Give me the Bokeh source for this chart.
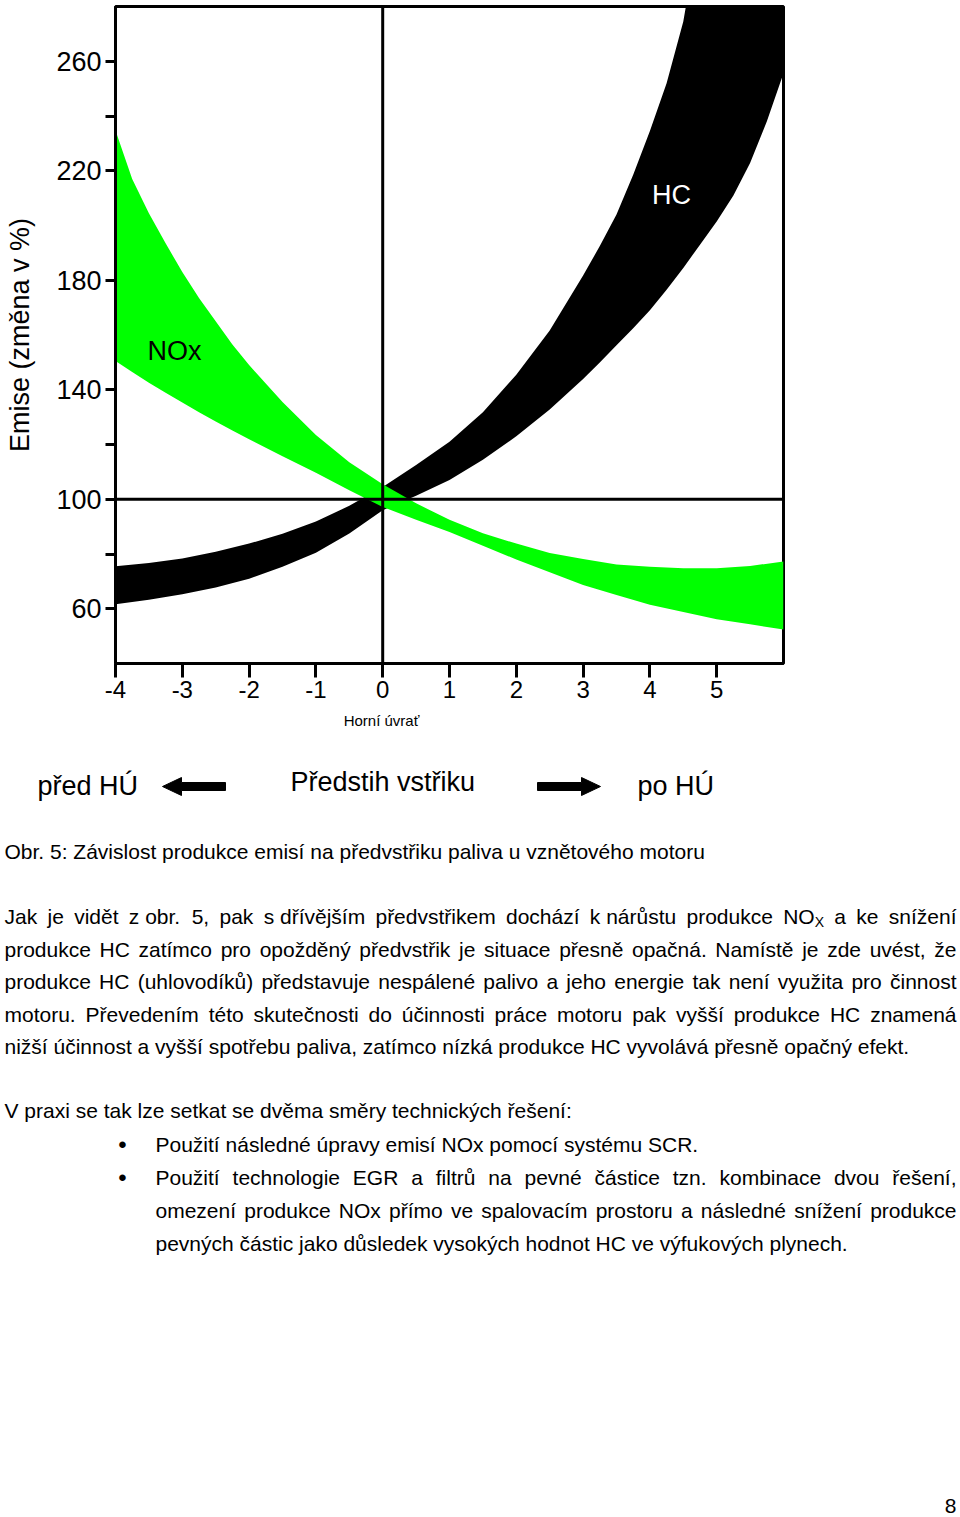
import unicodedata
from bokeh.plotting import figure
from bokeh.layouts import column
from bokeh.models import (Range1d, FixedTicker, Span, Label, ColumnDataSource)
from bokeh.core.properties import value
from bokeh.embed import file_html
from bokeh.resources import INLINE

# ---------------- data ----------------
hc_x = [-4.0, -3.5, -3.0, -2.5, -2.0, -1.5, -1.0, -0.5, 0.0, 0.5, 1.0, 1.5, 2.0, 2.5,
        3.0, 3.25, 3.5, 3.75, 4.0, 4.25, 4.5, 4.75, 5.0, 5.25, 5.5, 5.75, 6.0]
hc_upper = [75.5, 76.7, 78.4, 80.8, 83.8, 87.4, 91.9, 97.6, 104.5, 112.5, 121.0, 131.8, 145.5, 161.6,
            181.7, 192.5, 204.0, 218.5, 234.5, 252.0, 274.5, 310.0, 350.0, 400.0, 450.0, 500.0, 550.0]
hc_lower = [61.6, 63.3, 65.3, 67.8, 71.0, 75.3, 80.5, 87.5, 96.0, 101.3, 107.0, 114.4, 123.0, 132.8,
            143.9, 150.0, 156.3, 162.5, 169.0, 176.5, 184.5, 193.0, 201.5, 211.0, 222.8, 238.0, 255.6]

nox_x = [-4.0, -3.75, -3.5, -3.25, -3.0, -2.75, -2.5, -2.25, -2.0, -1.5, -1.0, -0.5, 0.0,
         0.5, 1.0, 1.5, 2.0, 2.5, 3.0, 3.5, 4.0, 4.5, 5.0, 5.5, 6.0]
nox_upper = [234.7, 217.0, 204.5, 193.5, 183.0, 173.5, 165.0, 156.5, 149.0, 135.5, 123.5, 113.5, 105.5,
             98.5, 92.5, 87.6, 83.8, 80.4, 78.2, 76.2, 75.3, 74.8, 74.8, 75.6, 77.3]
nox_lower = [150.5, 146.5, 142.6, 138.9, 135.3, 131.8, 128.4, 125.1, 121.9, 115.7, 109.7, 103.3, 97.2,
             92.5, 88.0, 83.0, 78.0, 73.3, 68.7, 65.0, 61.5, 58.8, 56.2, 54.3, 52.4]

x_ticks = [-4, -3, -2, -1, 0, 1, 2, 3, 4, 5]
y_ticks = [60, 100, 140, 180, 220, 260]
y_minor_ticks = [80, 120, 240]

y_axis_title = "Emise (změna v %)"
zero_label = "Horní úvrať"
arrow_texts = ["před HÚ", "Předstih vstřiku", "po HÚ"]
series_names = ["NOx", "HC"]

caption = "Obr. 5: Závislost produkce emisí na předvstřiku paliva u vznětového motoru"
para1 = [
    "Jak je vidět z\u00a0obr. 5, pak s\u00a0dřívějším předvstřikem dochází k\u00a0nárůstu produkce NOX a ke snížení",
    "produkce HC zatímco pro opožděný předvstřik je situace přesně opačná. Namístě je zde uvést, že",
    "produkce HC (uhlovodíků) představuje nespálené palivo a jeho energie tak není využita pro činnost",
    "motoru. Převedením této skutečnosti do účinnosti práce motoru pak vyšší produkce HC znamená",
    "nižší účinnost a vyšší spotřebu paliva, zatímco nízká produkce HC vyvolává přesně opačný efekt.",
]
para1_justify = [True, True, True, True, False]
para2 = "V praxi se tak lze setkat se dvěma směry technických řešení:"
bullet1 = "Použití následné úpravy emisí NOx pomocí systému SCR."
bullet2 = [
    "Použití technologie EGR a filtrů na pevné částice tzn. kombinace dvou řešení,",
    "omezení produkce NOx přímo ve spalovacím prostoru a následné snížení produkce",
    "pevných částic jako důsledek vysokých hodnot HC ve výfukových plynech.",
]
bullet2_justify = [True, True, False]
page_no = "8"

# ---------------- chart ----------------
W_PAGE, H_PAGE = 960, 1517
FL, FR, FT, FB = 115, 783, 6, 663
H1 = 708

p = figure(frame_width=FR - FL, frame_height=FB - FT,
           x_range=Range1d(-4, 6), y_range=Range1d(40, 280),
           output_backend="svg", toolbar_location=None,
           min_border_left=FL, min_border_right=W_PAGE - FR,
           min_border_top=FT, min_border_bottom=H1 - FB,
           background_fill_color="white", border_fill_color="white",
           outline_line_color="black", outline_line_width=3)
p.grid.visible = False

xa = p.xaxis[0]
xa.ticker = FixedTicker(ticks=x_ticks)
xa.major_label_overrides = {t: str(t) for t in x_ticks}
xa.axis_line_width = 3
xa.major_tick_line_width = 3
xa.major_tick_in = 0
xa.major_tick_out = 14
xa.minor_tick_line_color = None
xa.major_label_text_font = "Liberation Sans"
xa.major_label_text_font_size = "24px"
xa.major_label_text_color = "black"
xa.major_label_standoff = 3

ya = p.yaxis[0]
ya.ticker = FixedTicker(ticks=y_ticks, minor_ticks=y_minor_ticks)
ya.axis_line_width = 3
ya.major_tick_line_width = 3
ya.major_tick_in = 0
ya.major_tick_out = 10
ya.minor_tick_line_width = 3
ya.minor_tick_in = 0
ya.minor_tick_out = 10
ya.major_label_text_font = "Liberation Sans"
ya.major_label_text_font_size = "27px"
ya.major_label_text_color = "black"
ya.major_label_standoff = 4
ya.axis_label = y_axis_title
ya.axis_label_text_font = "Liberation Sans"
ya.axis_label_text_font_size = "27px"
ya.axis_label_text_font_style = "normal"
ya.axis_label_text_color = "black"
ya.axis_label_standoff = 18

p.varea(x=hc_x, y1=hc_lower, y2=hc_upper, fill_color="black")
p.varea(x=nox_x, y1=nox_lower, y2=nox_upper, fill_color="#00ff00")

p.add_layout(Span(location=0, dimension="height", line_color="black", line_width=3))
p.add_layout(Span(location=100, dimension="width", line_color="black", line_width=3))

p.add_layout(Label(x=-3.52, y=154, text=series_names[0], text_font="Liberation Sans",
                   text_font_size="27px", text_color="black", text_baseline="middle"))
p.add_layout(Label(x=4.03, y=211, text=series_names[1], text_font="Liberation Sans",
                   text_font_size="27px", text_color="white", text_baseline="middle"))

# ---------------- text part (page pixel coordinates) ----------------
H2 = H_PAGE - H1
t = figure(width=W_PAGE, height=H2, x_range=Range1d(0, W_PAGE), y_range=Range1d(H2, 0),
           output_backend="svg", toolbar_location=None,
           x_axis_location=None, y_axis_location=None,
           min_border_left=0, min_border_right=0, min_border_top=0, min_border_bottom=0,
           outline_line_color=None, background_fill_color="white", border_fill_color="white")
t.grid.visible = False

for fig in (p, t):
    if "frame_align" in fig.properties():
        fig.frame_align = False

def ty(py):
    return py - H1

AW = {" ": 278, ".": 278, ",": 278, ":": 278, "(": 333, ")": 333, "%": 889, "-": 333,
      "\u00a0": 278, "í": 278, "ť": 375, "ď": 615, "•": 350}
for ch, w in zip("ABCDEFGHIJKLMNOPQRSTUVWXYZ",
                 [667, 667, 722, 722, 667, 611, 778, 722, 278, 500, 667, 556, 833, 722, 778,
                  667, 778, 722, 667, 611, 722, 667, 944, 667, 667, 611]):
    AW[ch] = w
for ch, w in zip("abcdefghijklmnopqrstuvwxyz",
                 [556, 556, 500, 556, 556, 278, 556, 556, 222, 222, 500, 222, 833, 556, 556,
                  556, 556, 333, 500, 278, 556, 500, 722, 500, 500, 500]):
    AW[ch] = w
for ch in "0123456789":
    AW[ch] = 556

def char_w(ch):
    if ch in AW:
        return AW[ch]
    base = unicodedata.normalize("NFD", ch)[0]
    return AW.get(base, 556)

def text_w(s, size):
    return sum(char_w(c) for c in s) * size / 1000.0

BS = 21
SUBS = 14
SUB_TOKENS = {"NOX": ("NO", "X")}

wx, wy, wt = [], [], []
bx, by, bt = [], [], []

def token_w(tok):
    if tok in SUB_TOKENS:
        a, b = SUB_TOKENS[tok]
        return text_w(a, BS) + text_w(b, SUBS)
    return text_w(tok, BS)

def add_token(px, py, tok):
    if tok in SUB_TOKENS:
        a, b = SUB_TOKENS[tok]
        wx.append(px); wy.append(ty(py)); wt.append(a)
        bx.append(px + text_w(a, BS)); by.append(ty(py + 5)); bt.append(b)
    else:
        wx.append(px); wy.append(ty(py)); wt.append(tok)

def place_line(line, left, right, py, justify):
    if not justify:
        add_token(left, py, line)
        return
    toks = line.split(" ")
    ws = [token_w(k) for k in toks]
    gap = max((right - left - sum(ws)) / (len(toks) - 1), 3.0)
    x = left
    for k, w in zip(toks, ws):
        add_token(x, py, k)
        x += w + gap

place_line(caption, 4, 956, 851, False)
for i, (line, j) in enumerate(zip(para1, para1_justify)):
    place_line(line, 4, 956, 916 + i * 32.5, j)
place_line(para2, 4, 956, 1110, False)
place_line(bullet1, 155, 956, 1144, False)
for i, (line, j) in enumerate(zip(bullet2, bullet2_justify)):
    place_line(line, 155, 956, 1177 + i * 33, j)

def draw_text(src, size, align="left", font="Liberation Sans"):
    t.text(x="x", y="y", text="t", source=ColumnDataSource(src),
           text_font=value(font), text_font_size=value("%gpx" % size),
           text_color="black", text_align=value(align), text_baseline=value("middle"))

draw_text(dict(x=wx, y=wy, t=wt), BS)
draw_text(dict(x=bx, y=by, t=bt), SUBS)
draw_text(dict(x=[122, 122], y=[ty(1144), ty(1177)], t=["•", "•"]), 24, align="center")
draw_text(dict(x=[950], y=[ty(1505)], t=[page_no]), 21, align="center")

# texts below the chart axis
draw_text(dict(x=[381], y=[ty(720)], t=[zero_label]), 15, align="center")
draw_text(dict(x=[37, 290, 637], y=[ty(785), ty(781), ty(785)], t=arrow_texts), 27)

def block_arrow(tail, tip, yc):
    d = 1 if tip > tail else -1
    hx = tip - d * 19
    pts = [(tip, yc), (hx, yc - 9), (hx, yc - 4), (tail, yc - 4),
           (tail, yc + 4), (hx, yc + 4), (hx, yc + 9)]
    t.patch([a for a, b in pts], [ty(b) for a, b in pts], fill_color="black", line_color="black")

block_arrow(225, 162, 786)
block_arrow(537, 600, 786)

layout = column(p, t, spacing=0)
open("out.html", "w").write(file_html(layout, INLINE))
